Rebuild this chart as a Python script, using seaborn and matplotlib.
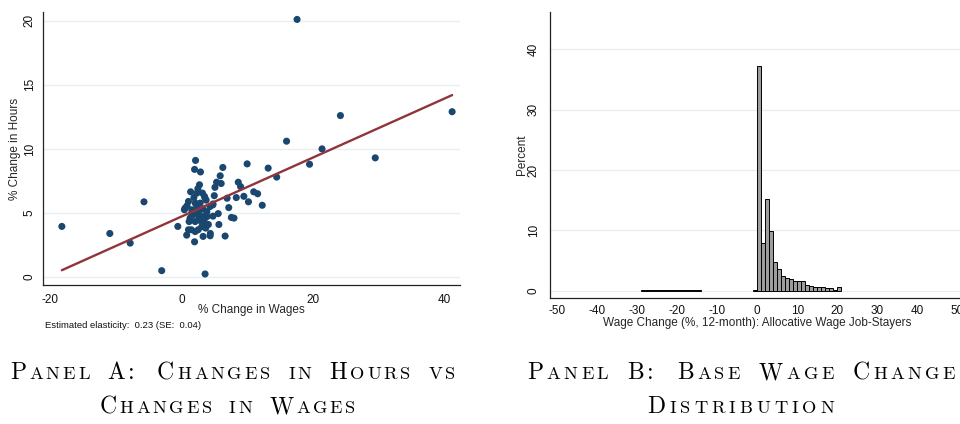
import numpy as np
import pandas as pd
import matplotlib
matplotlib.use("Agg")
import matplotlib.pyplot as plt
import seaborn as sns

# ---------------- data ----------------
# Panel A: industry-level % change in wages vs % change in hours
wage_change = [
    -18.2, -10.9, -7.8, -5.7, -3.0, -0.55, 3.6,
    17.6, 41.2, 24.2, 29.5, 21.4, 19.5, 16.0, 14.5, 13.2, 12.3, 11.6, 11.0,
    10.2, 10.0, 9.5, 9.0, 8.65, 8.35, 8.0, 7.6, 7.2, 6.95, 6.65, 6.3, 6.05,
    5.9, 5.7, 5.6, 5.35, 5.1, 5.0, 4.8, 4.4, 4.35, 4.1, 3.9, 3.87, 3.76,
    3.6, 3.5, 3.5, 3.35, 3.3, 3.2, 3.1, 3.26, 2.9, 2.85, 2.75, 2.65, 2.55,
    2.5, 2.35, 2.35, 2.15, 2.1, 2.09, 2.09, 2.0, 2.0, 1.9, 1.78, 1.58, 1.5,
    1.4, 1.32, 1.17, 1.07, 1.07, 0.85, 0.8, 0.56, 0.45, 2.6, 3.46, 3.7,
    4.37, 4.78, 2.9, 1.6, 4.8,
]
hours_change = [
    3.95, 3.4, 2.65, 5.87, 0.5, 3.95, 0.24,
    20.1, 12.9, 12.6, 9.3, 10.0, 8.8, 10.6, 7.8, 8.5, 5.6, 6.5, 6.65,
    5.87, 8.83, 6.3, 7.06, 7.4, 6.2, 4.6, 4.65, 5.42, 6.15, 3.2, 8.55, 7.3,
    7.9, 4.1, 4.95, 7.4, 7.0, 6.35, 5.7, 3.4, 5.5, 4.1, 4.72, 5.1, 6.0,
    6.15, 3.9, 6.3, 4.72, 3.17, 6.55, 3.94, 5.3, 8.2, 5.77, 7.2, 4.72, 3.69,
    6.9, 6.55, 5.45, 9.1, 5.77, 4.33, 3.55, 8.4, 2.75, 6.2, 4.86, 5.25, 3.69,
    6.65, 4.6, 4.33, 5.9, 3.69, 5.56, 3.27, 5.38, 5.25, 5.0, 4.33, 3.82,
    3.22, 5.63, 4.4, 5.0, 4.75,
]
ELASTICITY = 0.23
ELASTICITY_SE = 0.04
FIT_INTERCEPT = 4.72

# Panel B: histogram of 12-month wage changes (percent of job-stayers per 1-pt bin)
bin_left = [-29, -28, -27, -26, -25, -24, -23, -22, -21, -20, -19, -18, -17,
            -16, -15, -1, 0, 1, 2, 3, 4, 5, 6, 7, 8, 9, 10, 11, 12, 13, 14,
            15, 16, 17, 18, 19, 20]
bin_pct = [0.05, 0.05, 0.05, 0.05, 0.05, 0.05, 0.05, 0.05, 0.05, 0.05, 0.05,
           0.05, 0.05, 0.05, 0.05, 0.15, 37.2, 7.85, 15.2, 9.9, 4.7, 3.6,
           2.4, 2.1, 1.9, 1.55, 1.55, 1.55, 0.9, 0.77, 0.66, 0.66, 0.6, 0.5,
           0.4, 0.2, 0.55]

# ---------------- style ----------------
sns.set_theme(style="white")
plt.rcParams["font.family"] = ["Liberation Sans", "DejaVu Sans"]
plt.rcParams["axes.unicode_minus"] = False

NAVY = "#1a476f"
MAROON = "#90353b"
GRID = "#e6eef0"
AXIS = "#222222"

W, H = 960, 424
fig = plt.figure(figsize=(W / 100, H / 100), dpi=100)
fig.patch.set_facecolor("white")


def px_axes(left, top, right, bottom):
    return fig.add_axes([left / W, 1 - bottom / H, (right - left) / W, (bottom - top) / H])


def style_axes(ax, xpad, ypad):
    for side in ("top", "right"):
        ax.spines[side].set_visible(False)
    for side in ("left", "bottom"):
        ax.spines[side].set_color(AXIS)
        ax.spines[side].set_linewidth(0.9)
    ax.set_facecolor("white")
    ax.tick_params(axis="both", which="major", direction="out", length=4,
                   width=0.8, color=AXIS, labelsize=8.5, labelcolor="#111111")
    ax.tick_params(axis="x", pad=xpad)
    ax.tick_params(axis="y", pad=ypad, labelrotation=90)
    for lab in ax.get_yticklabels():
        lab.set_va("center")
    ax.yaxis.grid(True, color=GRID, lw=0.9)
    ax.xaxis.grid(False)
    ax.set_axisbelow(True)


def place_labels(ax, xlabel, ylabel, w_px, h_px, x_off, y_off):
    ax.set_xlabel(xlabel, fontsize=8.5, va="center")
    ax.set_ylabel(ylabel, fontsize=8.5, va="center")
    ax.xaxis.set_label_coords(0.5, -x_off / h_px)
    ax.yaxis.set_label_coords(-y_off / w_px, 0.5)


# ---------------- Panel A ----------------
axA = px_axes(43, 12, 460, 285)
dfA = pd.DataFrame({"wage": wage_change, "hours": hours_change})
fit_x = np.array([dfA["wage"].min(), dfA["wage"].max()])
fit_df = pd.DataFrame({"wage": fit_x, "hours": FIT_INTERCEPT + ELASTICITY * fit_x})
sns.lineplot(data=fit_df, x="wage", y="hours", ax=axA, color=MAROON, lw=1.7, zorder=3)
sns.scatterplot(data=dfA, x="wage", y="hours", ax=axA, color=NAVY, s=26,
                edgecolor="none", linewidth=0, zorder=2)
axA.set_xlim(-21.07, 42.4)
axA.set_ylim(-0.62, 20.68)
axA.set_xticks([-20, 0, 20, 40])
axA.set_yticks([0, 5, 10, 15, 20])
style_axes(axA, xpad=2.5, ypad=1.3)
place_labels(axA, "% Change in Wages", "% Change in Hours", 417, 273, 25, 28)
fig.text(45 / W, 1 - 325 / H,
         f"Estimated elasticity:  {ELASTICITY:.2f} (SE:  {ELASTICITY_SE:.2f})",
         fontsize=6.8, va="center", ha="left", color="#111111")

# ---------------- Panel B ----------------
axB = px_axes(550, 12.3, 965, 298)
dfB = pd.DataFrame({"mid": np.array(bin_left) + 0.5, "pct": bin_pct})
edges = list(range(min(bin_left), max(bin_left) + 2))
sns.histplot(data=dfB, x="mid", weights="pct", bins=edges, ax=axB,
             color="#9d9d9d", alpha=1, edgecolor="black", linewidth=0.7)
for p in list(axB.patches):
    if p.get_height() == 0:
        p.remove()
axB.set_xlim(-51.8, 51.95)
axB.set_ylim(-1.2, 46.1)
axB.set_xticks(np.arange(-50, 51, 10))
axB.set_yticks([0, 10, 20, 30, 40])
style_axes(axB, xpad=0.8, ypad=3.5)
place_labels(axB, "Wage Change (%, 12-month): Allocative Wage Job-Stayers", "Percent",
             415, 285.7, 24.7, 28.5)

# ---------------- captions in small caps ----------------
renderer = fig.canvas.get_renderer()


def small_caps(text, x0, x1, baseline_top_px, big=17.0, ratio=0.78):
    """Set text in small caps between two pixel x positions on one baseline."""
    small = big * ratio
    em = big * 100 / 72
    y = 1 - baseline_top_px / H
    glyphs = []
    prev = ""
    for ch in text:
        if ch == " ":
            # wider gap after a colon, as in sentence spacing
            glyphs.append((None, (0.7 if prev == ":" else 0.5) * em))
            prev = ch
            continue
        size = small if ch.islower() else big
        t = fig.text(0, y, ch.upper(), fontsize=size, family=["cmr10", "DejaVu Serif"],
                     va="baseline", ha="left", color="black")
        glyphs.append((t, t.get_window_extent(renderer).width))
        prev = ch
    natural = sum(w for _, w in glyphs)
    track = (x1 - x0 - natural) / max(len(glyphs) - 1, 1)
    x = x0
    for t, w in glyphs:
        if t is not None:
            t.set_x(x / W)
        x += w + track


small_caps("Panel A: Changes in Hours vs", 10, 455, 379)
small_caps("Changes in Wages", 100, 355, 413)
small_caps("Panel B: Base Wage Change", 527, 955, 379)
small_caps("Distribution", 647, 834, 413)

fig.savefig("out.png", dpi=100, facecolor="white")
